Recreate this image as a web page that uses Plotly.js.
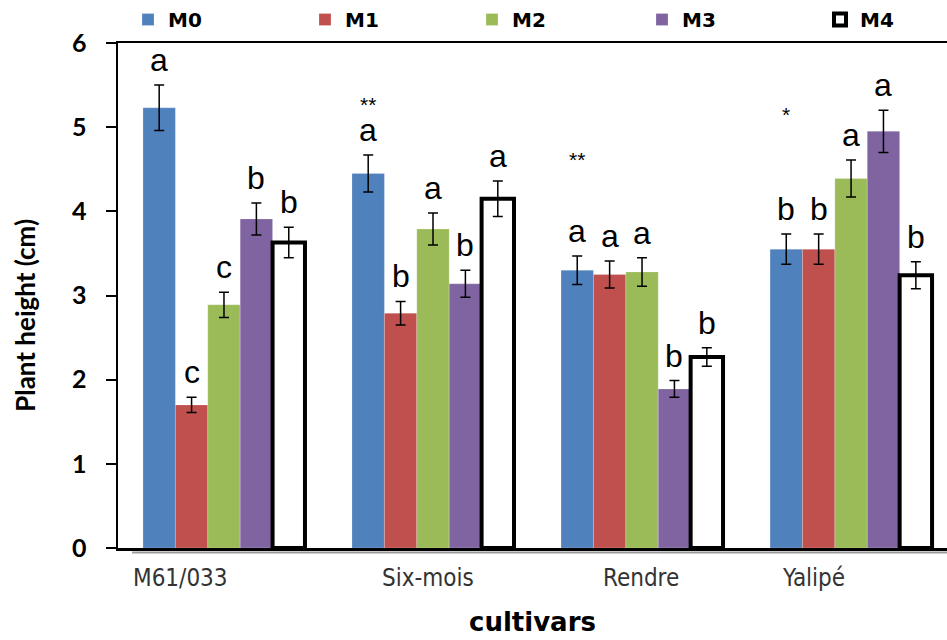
<!DOCTYPE html>
<html>
<head>
<meta charset="utf-8">
<script src="https://cdn.plot.ly/plotly-3.0.1.min.js"></script>
<style>html,body{margin:0;padding:0;background:#fff;}#chart{width:947px;height:640px;}</style>
</head>
<body>
<div id="chart"></div>
<script>
// ---- data ----
const cultivars = ["M61/033", "Six-mois", "Rendre", "Yalipé"];
const seriesNames = ["M0", "M1", "M2", "M3", "M4"];

const M0 = [5.23, 4.45, 3.30, 3.55];
const M1 = [1.70, 2.79, 3.25, 3.55];
const M2 = [2.89, 3.79, 3.28, 4.39];
const M3 = [3.91, 3.14, 1.89, 4.95];
const M4 = [3.63, 4.15, 2.27, 3.24];

const M0err = [0.27, 0.22, 0.17, 0.18];
const M1err = [0.09, 0.14, 0.16, 0.18];
const M2err = [0.15, 0.19, 0.17, 0.22];
const M3err = [0.19, 0.16, 0.10, 0.25];
const M4err = [0.18, 0.21, 0.11, 0.16];

const M0letters = ["a", "a", "a", "b"];
const M1letters = ["c", "b", "a", "b"];
const M2letters = ["c", "a", "a", "a"];
const M3letters = ["b", "b", "b", "a"];
const M4letters = ["b", "a", "b", "b"];

const sigMarks = ["", "**", "**", "*"];
const sigHeights = [null, 5.27, 4.62, 5.15];

const yTicks = [0, 1, 2, 3, 4, 5, 6];

// ---- styling ----
const colors = ["#4F81BD", "#C0504D", "#9BBB59", "#8064A2", "#FFFFFF"];
const values = [M0, M1, M2, M3, M4];
const errs = [M0err, M1err, M2err, M3err, M4err];
const letters = [M0letters, M1letters, M2letters, M3letters, M4letters];
const labelShift = [-43, -5, -1, -38];
const legendX = [0.0121, 0.2256, 0.4270, 0.6321, 0.8468];
const legendIds = ["legend", "legend2", "legend3", "legend4", "legend5"];

const bargap = 0.225;
const barW = (1 - bargap) / seriesNames.length;

const traces = seriesNames.map((name, i) => ({
  type: "bar",
  name: name,
  legend: legendIds[i],
  x: cultivars,
  y: values[i],
  marker: {
    color: colors[i],
    line: i === 4 ? {color: "#000", width: 4} : {color: "rgba(255,255,255,0.35)", width: 0.6}
  },
  error_y: {type: "data", array: errs[i], visible: true, color: "#000", thickness: 1.5, width: 5},
  hoverinfo: "x+y+name"
}));

const annotations = [];
// significance letters
seriesNames.forEach((name, i) => {
  cultivars.forEach((c, ci) => {
    annotations.push({
      x: ci + (i - 2) * barW, xref: "x",
      y: values[i][ci] + errs[i][ci], yref: "y",
      text: letters[i][ci], showarrow: false,
      yanchor: "middle", yshift: 25,
      font: {family: "Liberation Sans, Arial, sans-serif", size: 32, color: "#000"}
    });
  });
});
// stars
cultivars.forEach((c, ci) => {
  if (sigMarks[ci]) {
    annotations.push({
      x: ci - 2 * barW, xref: "x", y: sigHeights[ci], yref: "y",
      text: sigMarks[ci], showarrow: false, yanchor: "middle",
      font: {family: "Liberation Sans, Arial, sans-serif", size: 21, color: "#000"}
    });
  }
});
// category labels
cultivars.forEach((c, ci) => {
  annotations.push({
    x: ci, xref: "x", y: -0.059, yref: "paper", yanchor: "middle",
    xshift: labelShift[ci], text: c, showarrow: false,
    font: {family: "DejaVu Sans Condensed, Liberation Sans Narrow, DejaVu Sans, sans-serif", size: 24, color: "#333"}
  });
});
// axis titles
annotations.push({
  x: 0.5, xref: "paper", y: -0.147, yref: "paper", yanchor: "middle",
  text: "cultivars", showarrow: false,
  font: {family: "DejaVu Sans, sans-serif", size: 26, color: "#000", weight: 700}
});
annotations.push({
  x: -0.112, xref: "paper", y: 0.46, yref: "paper", xanchor: "center", yanchor: "middle",
  text: "Plant height (cm)", textangle: -90, showarrow: false,
  font: {family: "Lato, sans-serif", size: 26, color: "#000", weight: 700}
});

const legendFont = {family: "DejaVu Sans, sans-serif", size: 20, color: "#000", weight: 700};

const layout = {
  width: 947, height: 640,
  margin: {l: 118, r: 0, t: 42, b: 92, pad: 0},
  paper_bgcolor: "#fff", plot_bgcolor: "#fff",
  barmode: "group", bargap: bargap, bargroupgap: 0,
  showlegend: true,
  xaxis: {
    type: "category", range: [-0.507, 3.459],
    showticklabels: false, ticks: "",
    showline: true, linecolor: "#000", linewidth: 2.5, mirror: true,
    showgrid: false, zeroline: false, fixedrange: true
  },
  yaxis: {
    range: [0, 6], tickvals: yTicks, ticktext: yTicks.map(String),
    ticks: "outside", ticklen: 10, tickwidth: 2, tickcolor: "#000",
    ticklabelstandoff: 14,
    tickfont: {family: "Lato, sans-serif", size: 25, color: "#000", weight: 700},
    showline: true, linecolor: "#000", linewidth: 2.5,
    showgrid: false, zeroline: false, fixedrange: true
  },
  shapes: [{
    type: "line", xref: "paper", yref: "paper", x0: 0.017, x1: 1, y0: -0.009, y1: -0.009,
    line: {color: "#9a9a9a", width: 2}
  }],
  annotations: annotations
};
legendIds.forEach((id, i) => {
  layout[id] = {
    orientation: "h", x: legendX[i], xanchor: "left", y: 1.047, yanchor: "middle",
    font: legendFont, bgcolor: "rgba(0,0,0,0)"
  };
});

Plotly.newPlot("chart", traces, layout, {displayModeBar: false, staticPlot: true});
</script>
</body>
</html>
